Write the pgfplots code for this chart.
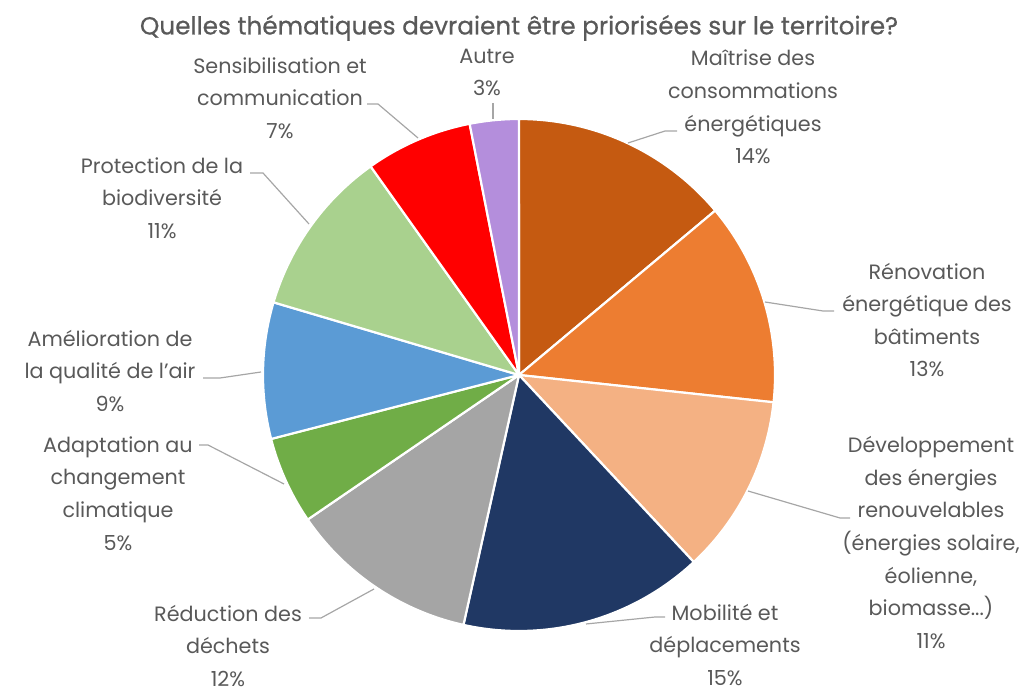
\documentclass[border=0pt]{standalone}
\usepackage{pgfplots}
\pgfplotsset{compat=1.18}
\usepackage{pgfplotstable}
\usepackage{fontspec}
\setmainfont{Poppins}
\newfontfamily\titlefont[FakeBold=0.6]{Poppins}
\definecolor{txt}{HTML}{595959}
\definecolor{lead}{HTML}{A6A6A6}
\definecolor{c0}{HTML}{C55A11}
\definecolor{c1}{HTML}{ED7D31}
\definecolor{c2}{HTML}{F4B183}
\definecolor{c3}{HTML}{203864}
\definecolor{c4}{HTML}{A5A5A5}
\definecolor{c5}{HTML}{70AD47}
\definecolor{c6}{HTML}{5B9BD5}
\definecolor{c7}{HTML}{A9D18E}
\definecolor{c8}{HTML}{FF0000}
\definecolor{c9}{HTML}{B48EDC}

% share of each theme (percent), clockwise from the top
\pgfplotstableread{
label value
Maitrise 13.90
Renovation 12.80
Developpement 11.34
Mobilite 15.44
Reduction 11.97
Adaptation 5.53
Amelioration 8.60
Protection 10.58
Sensibilisation 6.75
Autre 3.08
}\piedata

\def\cx{519}\def\cy{318}\def\rr{256}
\def\curang{90}

\begin{document}
\begin{tikzpicture}
\begin{axis}[
  scale only axis, width=1027bp, height=693bp,
  xmin=0, xmax=1027, ymin=0, ymax=693,
  hide axis, clip=false,
]
\path (rel axis cs:0,0) rectangle (rel axis cs:1,1);
\pgfplotsforeachungrouped \i in {0,...,9}{%
  \pgfplotstablegetelem{\i}{value}\of\piedata
  \pgfmathsetmacro{\angA}{\curang}%
  \pgfmathsetmacro{\angB}{\curang-3.6*\pgfplotsretval}%
  \edef\temp{\noexpand\addplot[fill=c\i, draw=white, line width=2.2pt, line join=round, domain=\angB:\angA, samples=90]
    ({\cx+\rr*cos(x)},{\cy+\rr*sin(x)}) -- (axis cs:\cx,\cy) -- cycle;}%
  \temp
  \global\let\curang\angB
}

\begin{scope}[every node/.style={text=txt, align=center, inner sep=0pt, font=\fontsize{20.8}{32.7}\selectfont}]
\node at (axis cs:519,665) {\titlefont\fontsize{24.8}{26}\selectfont Quelles thématiques devraient être priorisées sur le territoire?};
\node at (axis cs:487,620.5) {Autre\\3\%};
\node at (axis cs:753,586) {Maîtrise des\\consommations\\énergétiques\\14\%};
\node at (axis cs:927,373) {Rénovation\\énergétique des\\bâtiments\\13\%};
\node at (axis cs:931,150.5) {Développement\\des énergies\\renouvelables\\(énergies solaire,\\éolienne,\\biomasse...)\\11\%};
\node at (axis cs:725,48) {Mobilité et\\déplacements\\15\%};
\node at (axis cs:228,47) {Réduction des\\déchets\\12\%};
\node at (axis cs:118,199.5) {Adaptation au\\changement\\climatique\\5\%};
\node at (axis cs:110,322) {Amélioration de\\la qualité de l'air\\9\%};
\node at (axis cs:162,495) {Protection de la\\biodiversité\\11\%};
\node at (axis cs:280,595) {Sensibilisation et\\communication\\7\%};
\end{scope}

\begin{scope}[lead, line width=1.2pt]
\draw (axis cs:493,590) -- (axis cs:493,574);
\draw (axis cs:677,562) -- (axis cs:665,562) -- (axis cs:628,550);
\draw (axis cs:367,589) -- (axis cs:378,589) -- (axis cs:418,555);
\draw (axis cs:250,520) -- (axis cs:263,520) -- (axis cs:309,469);
\draw (axis cs:203,315) -- (axis cs:220,315) -- (axis cs:261,321);
\draw (axis cs:199,248) -- (axis cs:208,248) -- (axis cs:284,209);
\draw (axis cs:309,75) -- (axis cs:321,75) -- (axis cs:374,104);
\draw (axis cs:665,76) -- (axis cs:655,76) -- (axis cs:586,69);
\draw (axis cs:834,382) -- (axis cs:823,382) -- (axis cs:765,391);
\draw (axis cs:850,175) -- (axis cs:840,175) -- (axis cs:748,202);
\end{scope}
\end{axis}
\end{tikzpicture}
\end{document}
